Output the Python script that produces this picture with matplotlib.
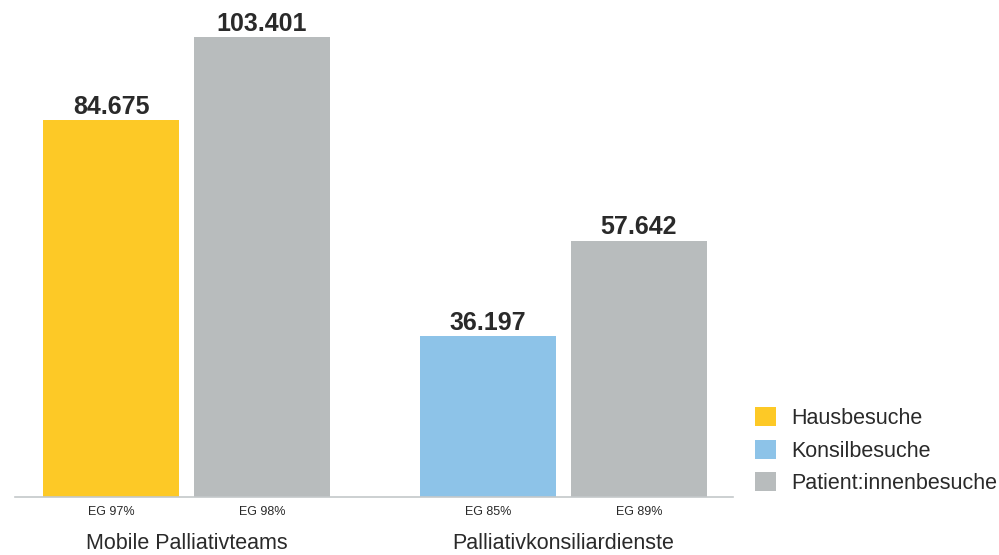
import matplotlib
matplotlib.use("Agg")
import matplotlib.pyplot as plt
from matplotlib.patches import Patch

groups = ["Mobile Palliativteams", "Palliativkonsiliardienste"]
series_names = ["Hausbesuche", "Konsilbesuche", "Patient:innenbesuche"]
first_values = [84675, 36197]          # Hausbesuche / Konsilbesuche
first_series = ["Hausbesuche", "Konsilbesuche"]
second_values = [103401, 57642]        # Patient:innenbesuche
first_eg = ["EG 97%", "EG 85%"]
second_eg = ["EG 98%", "EG 89%"]

colors = {"Hausbesuche": "#FDC926", "Konsilbesuche": "#8DC3E8", "Patient:innenbesuche": "#B8BCBD"}
text_color = "#2A2A2A"
font = ["Liberation Sans", "DejaVu Sans"]

W, H = 999, 555
fig = plt.figure(figsize=(W / 100, H / 100), dpi=100)
base_px = 497
ax = fig.add_axes([15 / W, (H - base_px) / H, (733 - 15) / W, base_px / H])

unit = 377.0
xl = (15 - 186.5) / unit
xr = (733 - 186.5) / unit
ax.set_xlim(xl, xr)
px_per_val = 460 / 103401
ax.set_ylim(0, base_px / px_per_val)

bw = 136 / unit
off = 75.5 / unit

def fmt(v):
    return f"{v:,}".replace(",", ".")

for i, g in enumerate(groups):
    x1 = i - off
    x2 = i + off
    ax.bar(x1, first_values[i], width=bw, color=colors[first_series[i]], linewidth=0)
    ax.bar(x2, second_values[i], width=bw, color=colors["Patient:innenbesuche"], linewidth=0)
    for x, v in ((x1, first_values[i]), (x2, second_values[i])):
        ax.annotate(fmt(v), (x, v), xytext=(0, 4.5), textcoords="offset points",
                    ha="center", va="baseline", fontsize=18, fontweight="bold",
                    color=text_color, family=font)
    ax.text(x1, -0.030, first_eg[i], transform=ax.get_xaxis_transform(), ha="center", va="center",
            fontsize=9, color=text_color, family=font)
    ax.text(x2, -0.030, second_eg[i], transform=ax.get_xaxis_transform(), ha="center", va="center",
            fontsize=9, color=text_color, family=font)
    ax.text(i, -0.093, g, transform=ax.get_xaxis_transform(), ha="center", va="center",
            fontsize=15.5, color=text_color, family=font)

for s in ["top", "right", "left"]:
    ax.spines[s].set_visible(False)
ax.spines["bottom"].set_color("#C4C8CA")
ax.spines["bottom"].set_linewidth(1.2)
ax.set_xticks([])
ax.set_yticks([])

handles = [Patch(facecolor=colors[n], edgecolor="none") for n in series_names]
leg = fig.legend(handles, series_names, loc="upper left", bbox_to_anchor=(755 / W, 1 - 407 / H),
                 frameon=False, handlelength=0.98, handleheight=0.98, handletextpad=0.7,
                 labelspacing=0.5, prop={"family": font, "size": 15.5}, borderaxespad=0,
                 borderpad=0)
for t in leg.get_texts():
    t.set_color(text_color)

fig.savefig("out.png", dpi=100)
